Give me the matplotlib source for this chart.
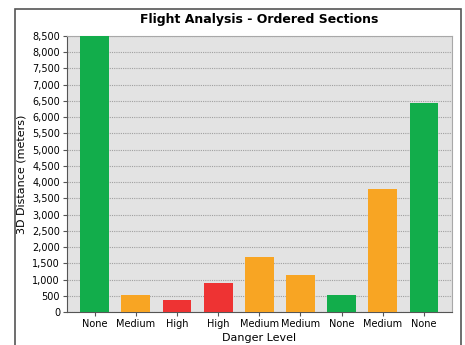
import matplotlib.pyplot as plt
from matplotlib.patches import Rectangle
from matplotlib.ticker import MultipleLocator, FuncFormatter

# section results, in flight order
levels = ['None', 'Medium', 'High', 'High', 'Medium', 'Medium', 'None', 'Medium', 'None']
distances = [8500, 530, 370, 880, 1700, 1150, 520, 3790, 6430]

level_colors = {'None': '#12AD4B', 'Medium': '#F8A523', 'High': '#EE3333'}
colors = [level_colors[lv] for lv in levels]

fig = plt.figure(figsize=(4.65, 3.45), dpi=100)
fig.patch.set_facecolor('white')

# outer chart frame
fig.patches.append(Rectangle((15 / 465, -0.05), 446 / 465, 1 - 9 / 345 + 0.05,
                             transform=fig.transFigure, fill=False,
                             edgecolor='#555555', linewidth=1.2))

ax = fig.add_axes([67 / 465, 1 - 312 / 345, (452 - 67) / 465, (312 - 36) / 345])
ax.set_facecolor('#E3E3E3')

x = range(len(levels))
ax.bar(x, distances, width=0.7, color=colors, edgecolor='none', zorder=3)

ax.set_xlim(-0.67, 8.68)
ax.set_ylim(0, 8500)
ax.yaxis.set_major_locator(MultipleLocator(500))
ax.yaxis.set_major_formatter(FuncFormatter(lambda v, p: f'{int(v):,}'))
ax.set_xticks(list(x))
ax.set_xticklabels(levels)

ax.grid(axis='y', color='#A0A0A0', linestyle=(0, (1, 1)), linewidth=0.8, zorder=1)

for side in ['top', 'right']:
    ax.spines[side].set_color('#A8A8A8')
for side in ['left', 'bottom']:
    ax.spines[side].set_color('#555555')

ax.tick_params(axis='both', labelsize=7, color='#555555', length=3, pad=2)

ax.set_title('Flight Analysis - Ordered Sections', fontsize=9, fontweight='bold', pad=9)
ax.set_xlabel('Danger Level', fontsize=8, labelpad=3)
ax.set_ylabel('3D Distance (meters)', fontsize=8, labelpad=4)

fig.savefig('out.png', dpi=100)
